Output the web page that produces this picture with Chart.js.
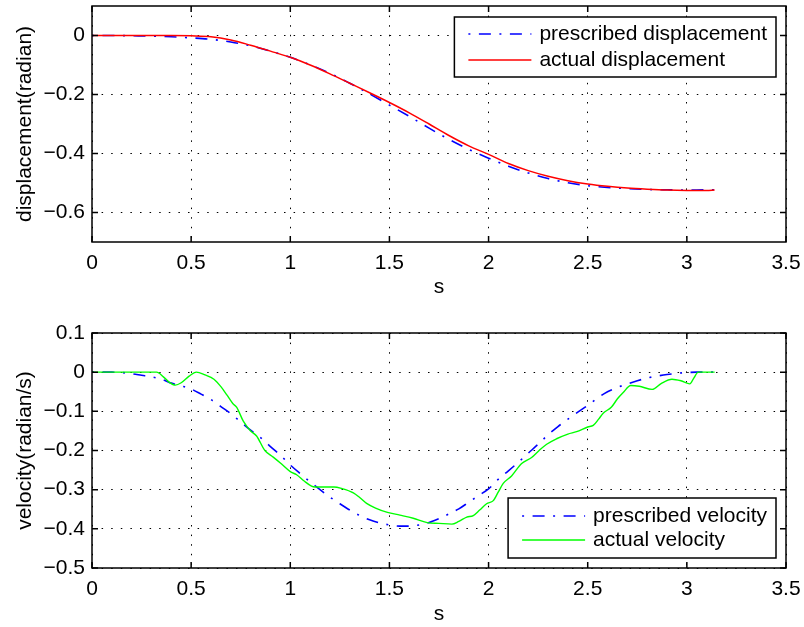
<!DOCTYPE html>
<html>
<head>
<meta charset="utf-8">
<script src="https://cdn.jsdelivr.net/npm/chart.js@4.4.1/dist/chart.umd.min.js"></script>
<style>
  html, body { margin: 0; padding: 0; background: #fff; }
  canvas { display: block; }
</style>
</head>
<body>
<canvas id="dispChart" width="804" height="300"></canvas>
<canvas id="velChart" width="804" height="327"></canvas>
<script>
'use strict'

// data (time in s)
const dispTime = [0, 0.1, 0.2, 0.3, 0.4, 0.5, 0.6, 0.7, 0.8, 0.9, 1.0, 1.1, 1.2, 1.3, 1.4, 1.5, 1.6,
  1.7, 1.8, 1.9, 2.0, 2.1, 2.2, 2.3, 2.4, 2.5, 2.6, 2.7, 2.8, 2.9, 3.0, 3.1, 3.14]
const prescribedDisp = [0, 0, -0.001, -0.002, -0.004, -0.008, -0.013, -0.022, -0.035, -0.053,
  -0.074, -0.099, -0.128, -0.162, -0.198, -0.236, -0.274, -0.314, -0.352, -0.386,
  -0.416, -0.443, -0.466, -0.485, -0.499, -0.509, -0.515, -0.519, -0.522, -0.523,
  -0.524, -0.523, -0.523]
const actualDisp = [0, 0, 0, 0, 0, -0.001, -0.004, -0.015, -0.033, -0.053,
  -0.074, -0.100, -0.130, -0.162, -0.194, -0.227, -0.262, -0.300, -0.339, -0.374,
  -0.403, -0.434, -0.458, -0.477, -0.492, -0.503, -0.511, -0.517, -0.521, -0.524,
  -0.525, -0.525, -0.524]

const velTimePrescribed = [0, 0.1, 0.15, 0.2, 0.25, 0.3, 0.35, 0.4, 0.45, 0.5, 0.55, 0.6, 0.65, 0.7,
  0.75, 0.8, 0.85, 0.9, 0.95, 1.0, 1.05, 1.1, 1.15, 1.2, 1.25, 1.3, 1.35, 1.4, 1.45, 1.5, 1.55,
  1.6, 1.65, 1.7, 1.75, 1.8, 1.85, 1.9, 1.95, 2.0, 2.05, 2.1, 2.15, 2.2, 2.25, 2.3, 2.35, 2.4,
  2.45, 2.5, 2.55, 2.6, 2.65, 2.7, 2.75, 2.8, 2.85, 2.9, 2.95, 3.0, 3.05, 3.1, 3.14]
const prescribedVel = [0, 0, -0.001, -0.004, -0.008, -0.012, -0.018, -0.028, -0.035, -0.043,
  -0.056, -0.07, -0.088, -0.106, -0.127, -0.148, -0.167, -0.19, -0.212, -0.237,
  -0.259, -0.28, -0.3, -0.319, -0.336, -0.352, -0.366, -0.377, -0.385, -0.39,
  -0.393, -0.393, -0.39, -0.384, -0.374, -0.362, -0.349, -0.332, -0.315, -0.298,
  -0.273, -0.252, -0.23, -0.207, -0.184, -0.16, -0.139, -0.12, -0.102, -0.085,
  -0.066, -0.05, -0.039, -0.03, -0.022, -0.015, -0.01, -0.006, -0.003, -0.001,
  0, 0, 0]

const velTimeActual = [0, 0.326, 0.36, 0.39, 0.42, 0.45, 0.49, 0.526, 0.57, 0.615, 0.65, 0.68,
  0.71, 0.73, 0.763, 0.8, 0.83, 0.872, 0.914, 0.95, 1.0, 1.032, 1.07, 1.107, 1.124, 1.22, 1.26,
  1.318, 1.35, 1.385, 1.43, 1.49, 1.553, 1.62, 1.69, 1.75, 1.815, 1.85, 1.89, 1.923, 1.955,
  1.99, 2.024, 2.05, 2.074, 2.116, 2.167, 2.217, 2.255, 2.293, 2.343, 2.4, 2.444, 2.5, 2.528,
  2.555, 2.578, 2.62, 2.65, 2.679, 2.717, 2.76, 2.825, 2.87, 2.925, 2.97, 3.015, 3.035, 3.058, 3.14]
const actualVel = [0, 0, -0.012, -0.026, -0.033, -0.027, -0.01, 0, -0.007, -0.018, -0.037, -0.058,
  -0.08, -0.09, -0.125, -0.15, -0.163, -0.2, -0.217, -0.232, -0.254, -0.262, -0.278, -0.291,
  -0.293, -0.293, -0.297, -0.308, -0.32, -0.335, -0.347, -0.358, -0.365, -0.373, -0.384,
  -0.386, -0.388, -0.381, -0.37, -0.366, -0.352, -0.336, -0.328, -0.305, -0.284, -0.265,
  -0.233, -0.218, -0.2, -0.184, -0.17, -0.158, -0.152, -0.14, -0.136, -0.12, -0.105, -0.089,
  -0.068, -0.052, -0.034, -0.036, -0.044, -0.029, -0.018, -0.022, -0.03, -0.015, 0, 0]

const xTicks = [0, 0.5, 1, 1.5, 2, 2.5, 3, 3.5]
const dispTicks = [-0.6, -0.4, -0.2, 0]
const velTicks = [-0.5, -0.4, -0.3, -0.2, -0.1, 0, 0.1]

const FONT = '"Liberation Sans", Arial, Helvetica, sans-serif'
Chart.defaults.font.family = FONT
Chart.defaults.font.size = 21
Chart.defaults.color = '#000'

const fmt = v => v === 0 ? '0' : String(Math.round(v * 10) / 10).replace('-', '\u2212')
const pts = (xs, ys) => xs.map((x, i) => ({ x: x, y: ys[i] }))
const dashDot = [12, 8.5, 2, 8.5]

// frame, inward tick marks and boxed legend like the matlab figure
const boxLegend = {
  id: 'boxLegend',
  afterDraw(chart, args, opts) {
    const { ctx, chartArea: a, scales } = chart
    ctx.save()
    ctx.strokeStyle = '#000'
    ctx.lineWidth = 1.5
    ctx.beginPath()
    scales.x.ticks.forEach(t => {
      const px = scales.x.getPixelForValue(t.value)
      ctx.moveTo(px, a.bottom); ctx.lineTo(px, a.bottom - 6)
      ctx.moveTo(px, a.top); ctx.lineTo(px, a.top + 6)
    })
    scales.y.ticks.forEach(t => {
      const py = scales.y.getPixelForValue(t.value)
      ctx.moveTo(a.left, py); ctx.lineTo(a.left + 6, py)
      ctx.moveTo(a.right, py); ctx.lineTo(a.right - 6, py)
    })
    ctx.stroke()
    ctx.strokeRect(a.left, a.top, a.right - a.left, a.bottom - a.top)

    ctx.font = '21px ' + FONT
    const sets = chart.data.datasets
    const textW = Math.max(...sets.map(d => ctx.measureText(d.label).width))
    const w = 85 + textW + 9, h = 60
    const left = a.right - 10 - w
    const top = opts.corner === 'top' ? a.top + 11 : a.bottom - 10 - h
    ctx.fillStyle = '#fff'
    ctx.fillRect(left, top, w, h)
    ctx.strokeRect(left, top, w, h)
    sets.forEach((d, i) => {
      const yy = top + opts.rows[i]
      ctx.save()
      ctx.strokeStyle = d.borderColor
      ctx.lineWidth = d.borderWidth
      ctx.setLineDash(d.borderDash || [])
      ctx.lineDashOffset = d.borderDashOffset || 0
      ctx.beginPath(); ctx.moveTo(left + 14, yy); ctx.lineTo(left + 77, yy); ctx.stroke()
      ctx.restore()
      ctx.fillStyle = '#000'
      ctx.textBaseline = 'middle'
      ctx.textAlign = 'left'
      ctx.fillText(d.label, left + 85, yy)
    })
    ctx.restore()
  }
}

function axes(yMin, yMax, yTicks, yTitle, xHeight) {
  return {
    x: {
      type: 'linear', min: 0, max: 3.5,
      afterBuildTicks: s => { s.ticks = xTicks.map(v => ({ value: v })) },
      afterFit: s => { s.height = xHeight; s.paddingLeft = 0; s.paddingRight = 0 },
      grid: { color: '#000', lineWidth: 1, drawTicks: false, borderDash: [1.5, 8.1] },
      border: { display: false, dash: [1.5, 8.1] },
      ticks: { padding: 9, maxRotation: 0, autoSkip: false, callback: fmt },
      title: { display: true, text: 's', padding: { top: 0, bottom: 0 } }
    },
    y: {
      min: yMin, max: yMax,
      afterBuildTicks: s => { s.ticks = yTicks.map(v => ({ value: v })) },
      afterFit: s => { s.width = 92; s.paddingTop = 0; s.paddingBottom = 0 },
      grid: { color: '#000', lineWidth: 1, drawTicks: false, borderDash: [1.5, 8.1] },
      border: { display: false, dash: [1.5, 8.1] },
      ticks: { padding: 7, autoSkip: false, callback: fmt },
      title: { display: true, text: yTitle, padding: { top: 13, bottom: 0 } }
    }
  }
}

const dispChart = new Chart(document.getElementById('dispChart'), {
  type: 'line',
  data: {
    datasets: [{
      label: 'prescribed displacement',
      data: pts(dispTime, prescribedDisp),
      borderColor: '#0000ff',
      borderWidth: 1.6,
      borderDash: dashDot,
      borderDashOffset: 20.5,
      order: 1
    }, {
      label: 'actual displacement',
      data: pts(dispTime, actualDisp),
      borderColor: '#ff0000',
      borderWidth: 1.5,
      order: 0
    }]
  },
  options: {
    responsive: false,
    animation: false,
    layout: { padding: { top: 6, right: 18, bottom: 0, left: 0 } },
    elements: { point: { radius: 0 }, line: { cubicInterpolationMode: 'monotone' } },
    plugins: { legend: { display: false }, tooltip: { enabled: false }, boxLegend: { corner: 'top', rows: [17, 43] } },
    scales: axes(-0.7, 0.1, dispTicks, 'displacement(radian)', 58)
  },
  plugins: [boxLegend]
})

const velChart = new Chart(document.getElementById('velChart'), {
  type: 'line',
  data: {
    datasets: [{
      label: 'prescribed velocity',
      data: pts(velTimePrescribed, prescribedVel),
      borderColor: '#0000ff',
      borderWidth: 1.6,
      borderDash: dashDot,
      borderDashOffset: 20.5,
      order: 1
    }, {
      label: 'actual velocity',
      data: pts(velTimeActual, actualVel),
      borderColor: '#00ff00',
      borderWidth: 1.4,
      order: 0
    }]
  },
  options: {
    responsive: false,
    animation: false,
    layout: { padding: { top: 33, right: 18, bottom: 0, left: 0 } },
    elements: { point: { radius: 0 }, line: { cubicInterpolationMode: 'monotone' } },
    plugins: { legend: { display: false }, tooltip: { enabled: false }, boxLegend: { corner: 'bottom', rows: [18, 42] } },
    scales: axes(-0.5, 0.1, velTicks, 'velocity(radian/s)', 59)
  },
  plugins: [boxLegend]
})
</script>
</body>
</html>
